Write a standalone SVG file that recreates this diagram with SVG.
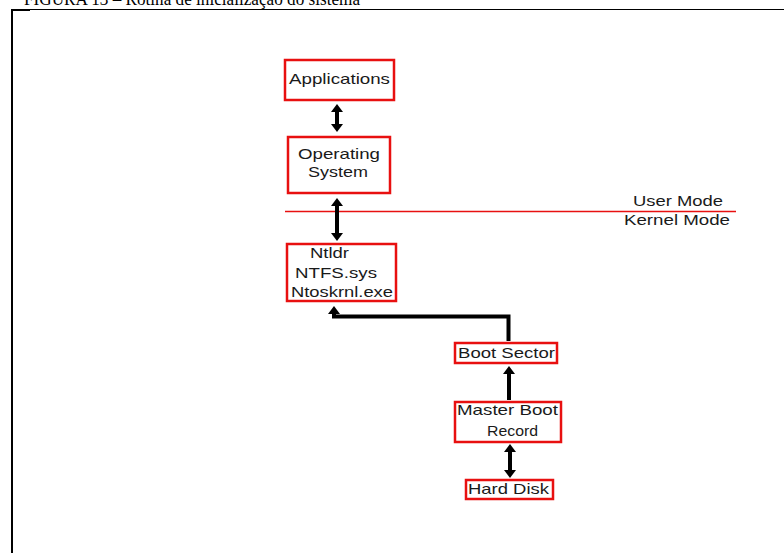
<svg xmlns="http://www.w3.org/2000/svg" width="784" height="553" viewBox="0 0 784 553">
<style>
.box{fill:#fff;stroke:#e81010;stroke-width:2.5}
.t{font-family:"Liberation Sans",Arial,sans-serif;font-size:15px;fill:#1a1a1a}
.conn{fill:none;stroke:#000;stroke-width:4}
.title{font-family:"Liberation Serif","Times New Roman",serif;font-size:18px;fill:#000}
</style>
<defs>
<marker id="ah" viewBox="0 0 8 12" refX="1" refY="6" markerWidth="8" markerHeight="12" markerUnits="userSpaceOnUse" orient="auto-start-reverse">
<path d="M0,0 L8,6 L0,12 z" fill="#000"/>
</marker>
</defs>
<rect width="784" height="553" fill="#fff"/>
<text class="title" x="24" y="5" textLength="336" lengthAdjust="spacingAndGlyphs">FIGURA 13 – Rotina de inicialização do sistema</text>
<g id="frame">
<line x1="12" y1="9" x2="12" y2="553" stroke="#000" stroke-width="2"/>
<line x1="11" y1="9.5" x2="784" y2="9.5" stroke="#000" stroke-width="1"/>
<rect x="11" y="9" width="19" height="2" fill="#000"/>
</g>
<g id="mode-divider">
<line x1="285" y1="211.5" x2="736" y2="211.5" stroke="#e81010" stroke-width="1.5"/>
<text class="t" x="633" y="206" textLength="90" lengthAdjust="spacingAndGlyphs">User Mode</text>
<text class="t" x="624" y="225" textLength="106" lengthAdjust="spacingAndGlyphs">Kernel Mode</text>
</g>
<g id="connectors">
<line class="conn" x1="337" y1="111" x2="337" y2="125" marker-start="url(#ah)" marker-end="url(#ah)"/>
<line class="conn" x1="337" y1="205" x2="337" y2="234" marker-start="url(#ah)" marker-end="url(#ah)"/>
<path class="conn" d="M508.5,341 L508.5,316.5 L334,316.5 L334,313" marker-end="url(#ah)"/>
<line class="conn" x1="509" y1="400" x2="509" y2="373" marker-end="url(#ah)"/>
<line class="conn" x1="510" y1="451" x2="510" y2="471" marker-start="url(#ah)" marker-end="url(#ah)"/>
</g>
<g id="applications">
<rect class="box" x="285" y="60" width="109" height="40"/>
<text class="t" x="289" y="84" textLength="101" lengthAdjust="spacingAndGlyphs">Applications</text>
</g>
<g id="operating-system">
<rect class="box" x="288" y="137" width="102" height="56"/>
<text class="t" x="298" y="159" textLength="82" lengthAdjust="spacingAndGlyphs">Operating</text>
<text class="t" x="308" y="177" textLength="60" lengthAdjust="spacingAndGlyphs">System</text>
</g>
<g id="ntldr">
<rect class="box" x="287" y="244" width="109" height="57"/>
<text class="t" x="310" y="258" textLength="39" lengthAdjust="spacingAndGlyphs">Ntldr</text>
<text class="t" x="295" y="278" textLength="82" lengthAdjust="spacingAndGlyphs">NTFS.sys</text>
<text class="t" x="291" y="297" textLength="102" lengthAdjust="spacingAndGlyphs">Ntoskrnl.exe</text>
</g>
<g id="boot-sector">
<rect class="box" x="455" y="343" width="102" height="20"/>
<text class="t" x="458" y="358" textLength="97" lengthAdjust="spacingAndGlyphs">Boot Sector</text>
</g>
<g id="master-boot-record">
<rect class="box" x="455" y="402" width="106" height="40"/>
<text class="t" x="457" y="415" textLength="101" lengthAdjust="spacingAndGlyphs">Master Boot</text>
<text class="t" x="487" y="436" textLength="51" lengthAdjust="spacingAndGlyphs">Record</text>
</g>
<g id="hard-disk">
<rect class="box" x="466" y="480" width="87" height="19"/>
<text class="t" x="468" y="494" textLength="81" lengthAdjust="spacingAndGlyphs">Hard Disk</text>
</g>
</svg>
